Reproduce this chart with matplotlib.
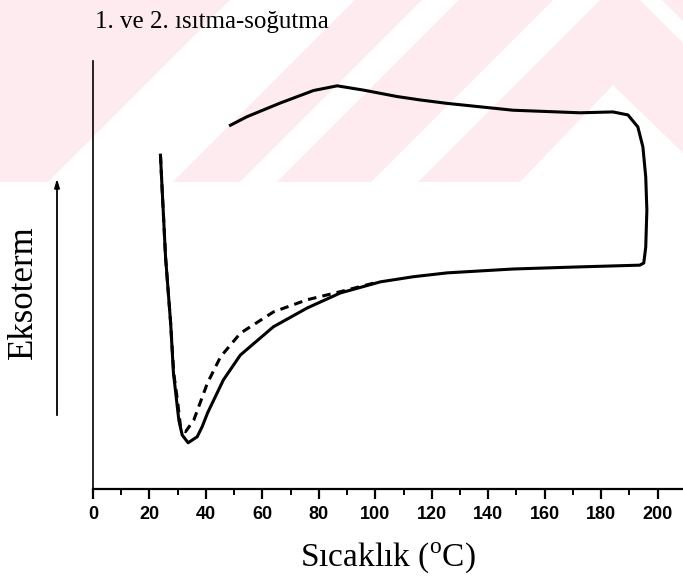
import numpy as np
import matplotlib.pyplot as plt
from matplotlib.patches import Polygon
from matplotlib.ticker import MultipleLocator

# run 1 (solid): heating 50 -> 196 C, then cooling back to ~24 C
run1_T = [48.7, 54.6, 66.4, 78.1, 86.5, 95.8, 107.7, 115.9, 125.4, 148.8,
          172.5, 184.2, 189.5, 193.0, 194.8, 195.8, 196.2, 195.8, 195.1, 193.7,
          172.5, 148.8, 125.5, 113.5, 101.8, 87.6, 75.9, 63.9, 52.2, 46.2, 40.6,
          38.7, 36.9, 33.7, 31.6, 30.4, 28.5, 27.5, 25.7, 25.1, 24.5, 23.9]
run1_y = [85.0, 87.0, 90.2, 93.1, 94.2, 93.2, 91.7, 90.9, 90.1, 88.5,
          87.9, 88.1, 87.4, 84.6, 79.9, 72.9, 65.2, 56.5, 52.8, 52.3,
          51.9, 51.4, 50.5, 49.6, 48.4, 45.8, 42.3, 37.9, 31.3, 25.5, 17.8,
          14.6, 12.2, 10.8, 12.6, 16.1, 27.1, 38.8, 54.2, 62.1, 69.9, 78.0]

# run 2 (dashed): second cooling, differs only around the minimum
run2_T = [23.9, 24.5, 25.1, 25.7, 27.5, 28.6, 29.9, 31.0, 32.8, 35.7,
          40.5, 45.2, 52.2, 64.0, 75.8, 87.6, 100.0]
run2_y = [78.0, 69.9, 62.1, 54.2, 38.8, 27.0, 20.8, 14.6, 13.4, 16.1,
          24.7, 30.9, 36.4, 41.4, 44.2, 46.1, 48.2]

W, H = 683, 583
fig = plt.figure(figsize=(W / 100, H / 100), dpi=100)

# faint pink watermark stripes behind the chart (figure pixel space)
bg = fig.add_axes([0, 0, 1, 1], zorder=-1)
bg.set_xlim(0, W)
bg.set_ylim(H, 0)
bg.axis('off')
pink = '#fdebef'
stripes = [
    [(0, 0), (230, 0), (48, 182), (0, 182)],
    [(355, 0), (422, 0), (240, 182), (173, 182)],
    [(459, 0), (553, 0), (371, 182), (277, 182)],
    [(600, 0), (640, 0), (683, 43), (683, 153), (680, 150), (613, 85),
     (520, 182), (418, 182)],
    [(662, 0), (683, 0), (683, 21)],
]
for s in stripes:
    bg.add_patch(Polygon(s, closed=True, facecolor=pink, edgecolor='none'))

# exotherm direction arrow
bg.annotate('', xy=(57, 176), xytext=(57, 418),
            arrowprops=dict(arrowstyle='-|>,head_length=0.5,head_width=0.15',
                            color='black', lw=1.3))

ax = fig.add_axes([93 / W, (H - 489) / H, (W - 93) / W, (489 - 61) / H])
ax.patch.set_alpha(0)

ax.plot(run1_T, run1_y, color='black', lw=2.2, solid_joinstyle='round')
ax.plot(run2_T, run2_y, color='black', lw=2.2, ls=(0, (2.8, 2.0)))

ax.set_xlim(0, 209)
ax.set_ylim(0, 100)
ax.spines['top'].set_visible(False)
ax.spines['right'].set_visible(False)
ax.spines['left'].set_linewidth(1.2)
ax.spines['bottom'].set_linewidth(1.6)
ax.set_yticks([])

ax.xaxis.set_major_locator(MultipleLocator(20))
ax.xaxis.set_minor_locator(MultipleLocator(10))
ax.tick_params(axis='x', which='major', length=7, width=1.6, pad=5,
               labelsize=13)
ax.tick_params(axis='x', which='minor', length=4, width=1.4)
for lab in ax.get_xticklabels():
    lab.set_fontfamily('Liberation Sans')
    lab.set_fontweight('bold')

serif = 'Liberation Serif'
fig.text(95 / W, 1 - 22 / H, '1. ve 2. ısıtma-soğutma', family=serif,
         fontsize=18, ha='left', va='center')
fig.text(388 / W, 1 - 558 / H, 'Sıcaklık ($^{\\mathregular{o}}$C)', family=serif,
         fontsize=24, ha='center', va='center')
fig.text(23 / W, 1 - 292 / H, 'Eksoterm', family=serif, fontsize=25,
         rotation=90, ha='center', va='center')

fig.savefig('out.png', dpi=100, facecolor='white')
